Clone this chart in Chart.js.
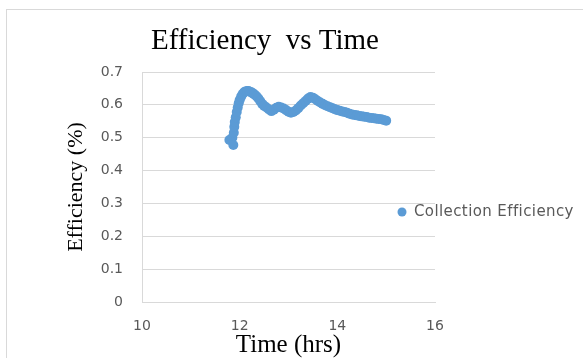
<!DOCTYPE html>
<html>
<head>
<meta charset="utf-8">
<script src="https://cdn.jsdelivr.net/npm/chart.js@4"></script>
<style>
  html, body { margin: 0; padding: 0; background: #fff; overflow: hidden; }
  #frame { position: absolute; left: 6px; top: 9px; width: 620px; height: 400px; border: 1px solid #d9d9d9; }
  #my-chart { position: absolute; left: 0; top: 0; }
</style>
</head>
<body>
<div id="frame"></div>
<canvas id="my-chart" width="583" height="358"></canvas>
<script>
const chartTitle = 'Efficiency  vs Time';
const seriesName = 'Collection Efficiency';
const xTitle = 'Time (hrs)';
const yTitle = 'Efficiency (%)';

// time in hours
const timeHrs = [
  11.79, 11.85, 11.87, 11.88, 11.89, 11.90, 11.92, 11.94, 11.96, 11.98,
  12.00, 12.03, 12.06, 12.09, 12.12, 12.15, 12.18, 12.21, 12.24, 12.27,
  12.30, 12.34, 12.38, 12.42, 12.46, 12.50, 12.55, 12.60, 12.65, 12.70,
  12.75, 12.80, 12.85, 12.90, 12.95, 13.00, 13.05, 13.10, 13.15, 13.20,
  13.25, 13.30, 13.35, 13.40, 13.45, 13.50, 13.55, 13.60, 13.65, 13.70,
  13.75, 13.80, 13.85, 13.90, 13.95, 14.00, 14.05, 14.10, 14.15, 14.20,
  14.25, 14.30, 14.35, 14.40, 14.45, 14.50, 14.55, 14.60, 14.65, 14.70,
  14.75, 14.80, 14.85, 14.90, 14.95, 15.00
];
const efficiency = [
  0.493, 0.500, 0.478, 0.515, 0.533, 0.548, 0.562, 0.578, 0.592, 0.605,
  0.615, 0.625, 0.633, 0.638, 0.641, 0.642, 0.642, 0.640, 0.638, 0.635,
  0.632, 0.627, 0.620, 0.612, 0.603, 0.597, 0.592, 0.586, 0.581, 0.585,
  0.591, 0.594, 0.592, 0.589, 0.584, 0.579, 0.576, 0.578, 0.583, 0.590,
  0.598, 0.605, 0.612, 0.619, 0.624, 0.622, 0.617, 0.612, 0.607, 0.603,
  0.599, 0.596, 0.593, 0.590, 0.587, 0.584, 0.582, 0.580, 0.578, 0.576,
  0.573, 0.571, 0.569, 0.568, 0.566, 0.565, 0.564, 0.563, 0.561, 0.560,
  0.559, 0.558, 0.557, 0.556, 0.554, 0.552
];

const xRange = [10, 16];
const yRange = [0, 0.7];

// legend drawn by hand so it can sit over the plot's right edge like Excel does
const sideLegend = {
  id: 'sideLegend',
  afterDraw(chart) {
    const ctx = chart.ctx;
    const ds = chart.data.datasets[0];
    ctx.save();
    ctx.fillStyle = ds.backgroundColor;
    ctx.beginPath();
    ctx.arc(402, 212, 4.5, 0, Math.PI * 2);
    ctx.fill();
    ctx.font = '15px "DejaVu Sans"';
    ctx.letterSpacing = '0.4px';
    ctx.fillStyle = '#595959';
    ctx.textBaseline = 'middle';
    ctx.fillText(ds.label, 414, 212);
    ctx.restore();
  }
};

const ctx = document.getElementById('my-chart').getContext('2d');
const chart = new Chart(ctx, {
  type: 'scatter',
  data: {
    datasets: [{
      label: seriesName,
      data: timeHrs.map((t, i) => ({ x: t, y: efficiency[i] })),
      backgroundColor: '#5b9bd5',
      borderColor: '#5b9bd5',
      borderWidth: 0,
      pointRadius: 5,
      pointHoverRadius: 5
    }]
  },
  options: {
    responsive: false,
    animation: false,
    devicePixelRatio: 1,
    layout: { padding: { left: 0, right: 53, top: 0, bottom: 0 } },
    plugins: {
      legend: { display: false },
      tooltip: { enabled: false },
      title: {
        display: true,
        text: chartTitle,
        color: '#000',
        font: { family: '"Liberation Serif"', size: 29, weight: 'normal', lineHeight: 1.2 },
        padding: { top: 24, bottom: 13.2 }
      }
    },
    scales: {
      x: {
        type: 'linear',
        min: xRange[0],
        max: xRange[1],
        grid: { display: false },
        border: { display: true, color: '#d9d9d9', width: 1 },
        ticks: {
          stepSize: 2,
          color: '#595959',
          font: { family: '"DejaVu Sans"', size: 14 },
          padding: 8
        },
        title: {
          display: true,
          text: xTitle,
          color: '#000',
          font: { family: '"Liberation Serif"', size: 25, lineHeight: 1 },
          padding: { top: 0, bottom: 0 }
        },
        afterFit(scale) { scale.height = 56; }
      },
      y: {
        type: 'linear',
        min: yRange[0],
        max: yRange[1],
        grid: { color: '#d9d9d9', drawTicks: false },
        border: { display: true, color: '#d9d9d9', width: 1 },
        ticks: {
          stepSize: 0.1,
          color: '#595959',
          font: { family: '"DejaVu Sans"', size: 14 },
          padding: 19
        },
        title: {
          display: true,
          text: yTitle,
          color: '#000',
          font: { family: '"Liberation Serif"', size: 22, lineHeight: 1 },
          padding: { top: 65, bottom: 0 }
        },
        afterFit(scale) { scale.width = 142; }
      },
      // empty right-hand space where Excel keeps the legend
      yRight: {
        type: 'linear',
        position: 'right',
        display: true,
        grid: { display: false },
        border: { display: false },
        ticks: { display: false },
        afterFit(scale) { scale.width = 95; }
      }
    }
  },
  plugins: [sideLegend]
});
</script>
</body>
</html>
